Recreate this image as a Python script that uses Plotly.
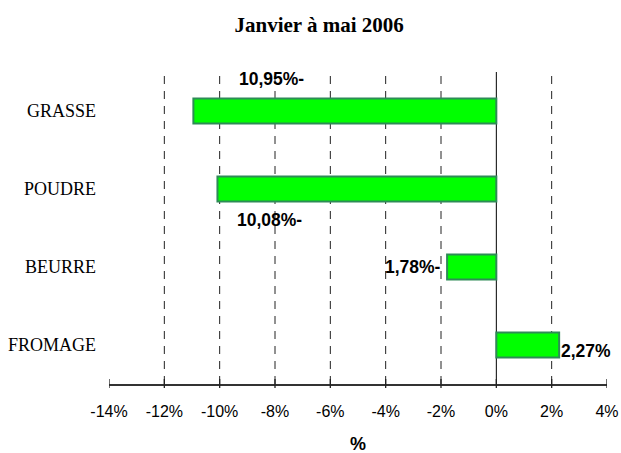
import plotly.graph_objects as go

categories = ["GRASSE", "POUDRE", "BEURRE", "FROMAGE"]
values = [-10.95, -10.08, -1.78, 2.27]
tick_vals = [-14, -12, -10, -8, -6, -4, -2, 0, 2, 4]
tick_text = ["-14%", "-12%", "-10%", "-8%", "-6%", "-4%", "-2%", "0%", "2%", "4%"]
title_text = "Janvier à mai 2006"
axis_title = "%"

def fr_label(v):
    s = f"{abs(v):.2f}".replace(".", ",") + "%"
    return s + "-" if v < 0 else s

# label placement style per bar (pixel offsets from bar end)
label_style = [
    dict(xanchor="center", xshift=78, yshift=32),
    dict(xanchor="center", xshift=52, yshift=-31),
    dict(xanchor="right", xshift=-4, yshift=0),
    dict(xanchor="left", xshift=0, yshift=-6),
]

fig = go.Figure()
fig.add_trace(go.Bar(
    x=values, y=categories, orientation="h", width=0.32,
    marker=dict(color="#00FF00", line=dict(color="#2E8B57", width=2)),
    hoverinfo="skip",
))

shapes = []
for v in tick_vals:
    if v not in (tick_vals[0], tick_vals[-1], 0):
        shapes.append(dict(type="line", xref="x", yref="paper", x0=v, x1=v, y0=0, y1=1,
                           line=dict(color="#222", width=1, dash="8px,7px"), layer="below"))
    shapes.append(dict(type="line", xref="x", yref="paper", ysizemode="pixel", yanchor=0,
                       x0=v, x1=v, y0=-4, y1=5, line=dict(color="#222", width=1.3)))
# zero line
shapes.append(dict(type="line", xref="x", yref="paper", x0=0, x1=0, y0=0, y1=1,
                   line=dict(color="black", width=1), layer="below"))

annotations = []
for cat, v, st in zip(categories, values, label_style):
    annotations.append(dict(x=v, y=cat, xref="x", yref="y", text=fr_label(v), showarrow=False,
                            font=dict(family="Liberation Sans, Arial", size=17.5, color="black", weight="bold"),
                            yanchor="middle", **st))
annotations.append(dict(x=0.5, y=0, xref="paper", yref="paper", text=axis_title, showarrow=False,
                        yanchor="middle", yshift=-60,
                        font=dict(family="Liberation Sans, Arial", size=18, color="black", weight="bold")))

fig.update_layout(
    width=621, height=453,
    margin=dict(l=109, r=14, t=72, b=69),
    paper_bgcolor="white", plot_bgcolor="white",
    showlegend=False,
    title=dict(text=title_text, x=0.514, xref="container", xanchor="center",
               y=1 - 25 / 453, yref="container", yanchor="middle",
               font=dict(family="Liberation Serif, Times New Roman", size=21, color="black", weight="bold")),
    xaxis=dict(range=[tick_vals[0], tick_vals[-1]], tickvals=tick_vals, ticktext=tick_text,
               showgrid=False, zeroline=False, showline=True, linecolor="#333", linewidth=1.5,
               ticks="", ticklabelstandoff=12, automargin=False,
               tickfont=dict(family="Liberation Sans, Arial", size=16, color="black")),
    yaxis=dict(autorange="reversed", showgrid=False, zeroline=False, showline=False, ticks="",
               ticklabelstandoff=12, automargin=False,
               tickfont=dict(family="Liberation Serif, Times New Roman", size=18, color="black")),
    shapes=shapes,
    annotations=annotations,
)

fig.write_html("out.html", config={"displayModeBar": False, "responsive": False})
with open("out.html", "r", encoding="utf-8") as f:
    html = f.read()
html = html.replace("<body>", '<body style="margin:0;padding:0;overflow:hidden">', 1)
with open("out.html", "w", encoding="utf-8") as f:
    f.write(html)
